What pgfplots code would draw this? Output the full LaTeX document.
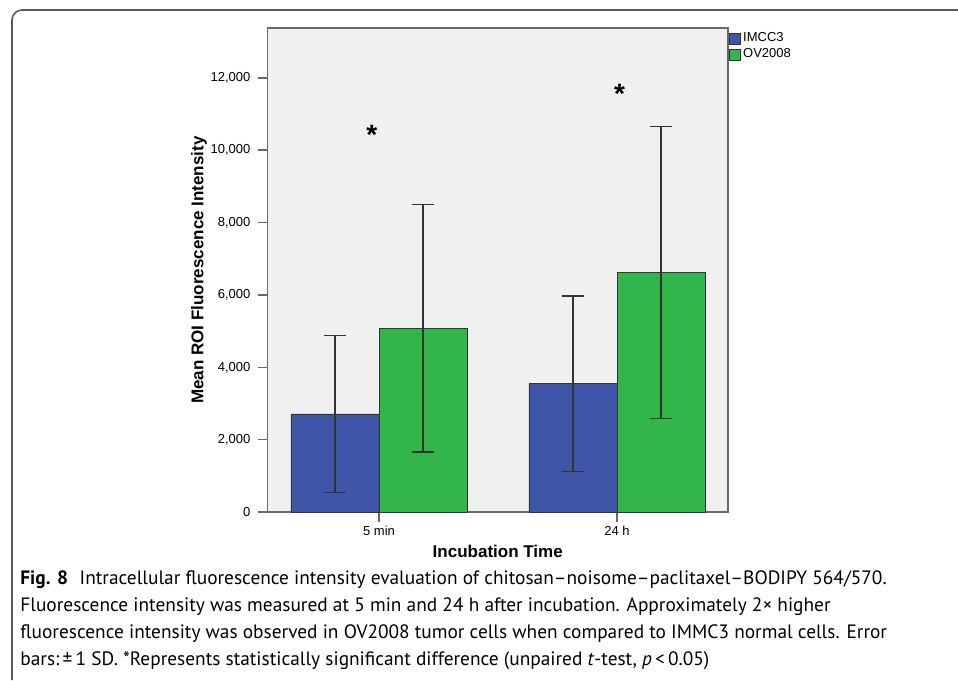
\documentclass[border=0pt]{standalone}
\usepackage{pgfplots}
\pgfplotsset{compat=1.18}
\usepackage{fontspec}
\setmainfont{Liberation Sans}
\newfontfamily\capfont{PT Sans}
\definecolor{barblue}{RGB}{63,86,168}
\definecolor{bargreen}{RGB}{50,182,74}
\definecolor{plotbg}{RGB}{240,240,240}
\definecolor{axisgray}{RGB}{105,105,105}

\begin{document}
\begin{tikzpicture}
\useasboundingbox (0,0) rectangle (479pt,-340pt);
% figure frame (left and top only, the rest is cut off)
\draw[line width=0.8pt, color=black!65] (6pt,-340pt) -- (6pt,-10pt)
  arc[start angle=180, end angle=90, radius=5pt] -- (479pt,-5pt);

\begin{axis}[
    at={(133.75pt,-256pt)}, anchor=south west,
    scale only axis,
    width=230.25pt, height=242pt,
    xmin=-0.4685, xmax=1.466,
    ymin=0, ymax=13380,
    ybar=0pt, bar width=0.37,
    legend image code/.code={\draw[#1, draw=black!80, line width=0.4pt] (0pt,-2.75pt) rectangle (5.5pt,2.75pt);},
    axis background/.style={fill=plotbg},
    axis line style={draw=axisgray, line width=0.9pt},
    tick align=outside, tick pos=left,
    major tick length=5pt,
    tick style={draw=axisgray, line width=0.8pt},
    xtick={0,1}, xticklabels={5 min, 24 h},
    ytick={0,2000,4000,6000,8000,10000,12000},
    scaled y ticks=false,
    yticklabel style={/pgf/number format/.cd, fixed, 1000 sep={,}, assume math mode=true},
    xticklabel style={yshift=1.5pt},
    ticklabel style={font=\fontsize{6.5}{7}\selectfont},
    xlabel={Incubation Time},
    ylabel={Mean ROI Fluorescence Intensity},
    label style={font=\fontsize{8.5}{10}\selectfont\bfseries},
    xlabel style={yshift=2pt},
    ylabel style={yshift=-5pt},
    legend style={at={(1,1)}, anchor=north west, xshift=0.5pt, yshift=-1pt,
        draw=none, fill=none, inner sep=0pt, row sep=0pt,
        nodes={inner sep=1pt},
        font=\fontsize{6.5}{7}\selectfont},
    legend cell align=left,
]
\addplot[fill=barblue, draw=black!80, line width=0.4pt,
    error bars/.cd, y dir=both, y explicit,
    error bar style={draw=black!80, line width=0.7pt},
    error mark options={rotate=90, mark size=5.5pt, draw=black!80, line width=0.7pt}]
  coordinates {(0,2710) +- (0,2170) (1,3545) +- (0,2425)};
\addplot[fill=bargreen, draw=black!80, line width=0.4pt,
    error bars/.cd, y dir=both, y explicit,
    error bar style={draw=black!80, line width=0.7pt},
    error mark options={rotate=90, mark size=5.5pt, draw=black!80, line width=0.7pt}]
  coordinates {(0,5080) +- (0,3420) (1,6620) +- (0,4030)};
\legend{IMCC3, OV2008}
\node[anchor=base, font=\fontsize{14}{14}\selectfont\bfseries] at (axis cs:-0.03,10150) {*};
\node[anchor=base, font=\fontsize{14}{14}\selectfont\bfseries] at (axis cs:1.01,11280) {*};
\end{axis}

\begin{scope}[every node/.style={anchor=base west, inner sep=0pt, font=\capfont\fontsize{9.68}{12}\selectfont}]
\node at (10pt,-292pt) {\textbf{Fig. 8}\hspace{0.6em}Intracellular fluorescence intensity evaluation of chitosan–noisome–paclitaxel–BODIPY 564/570.};
\node at (10pt,-305.5pt) {Fluorescence intensity was measured at 5 min and 24 h after incubation. Approximately 2× higher};
\node at (10pt,-319pt) {fluorescence intensity was observed in OV2008 tumor cells when compared to IMMC3 normal cells. Error};
\node at (10pt,-332.5pt) {bars:\,±\,1 SD. *Represents statistically significant difference (unpaired \textit{t}-test, \textit{p}\,<\,0.05)};
\end{scope}
\end{tikzpicture}
\end{document}
